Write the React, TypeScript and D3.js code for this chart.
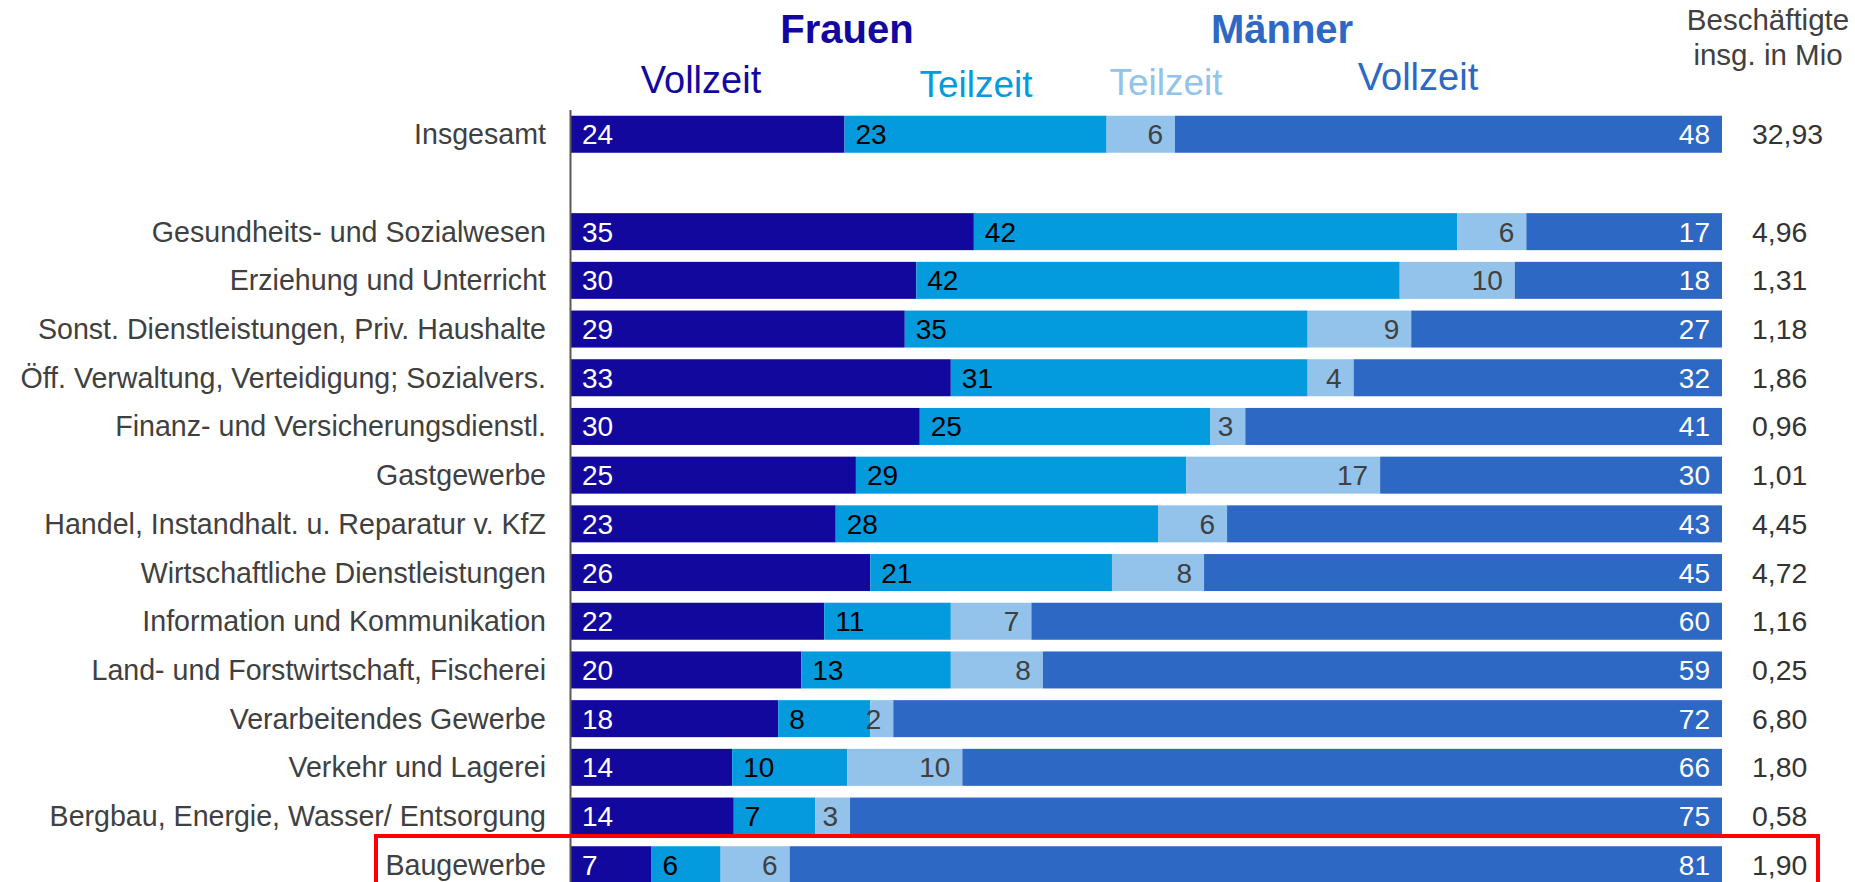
import React from 'react';
import * as d3 from 'd3';

const categories = [
  'Insgesamt',
  '',
  'Gesundheits- und Sozialwesen',
  'Erziehung und Unterricht',
  'Sonst. Dienstleistungen, Priv. Haushalte',
  'Öff. Verwaltung, Verteidigung; Sozialvers.',
  'Finanz- und Versicherungsdienstl.',
  'Gastgewerbe',
  'Handel, Instandhalt. u. Reparatur v. KfZ',
  'Wirtschaftliche Dienstleistungen',
  'Information und Kommunikation',
  'Land- und Forstwirtschaft, Fischerei',
  'Verarbeitendes Gewerbe',
  'Verkehr und Lagerei',
  'Bergbau, Energie, Wasser/ Entsorgung',
  'Baugewerbe'
];

// Anteile in Prozent (leere Zeile = Abstand)
const frauenVollzeit = [24, null, 35, 30, 29, 33, 30, 25, 23, 26, 22, 20, 18, 14, 14, 7];
const frauenTeilzeit = [23, null, 42, 42, 35, 31, 25, 29, 28, 21, 11, 13, 8, 10, 7, 6];
const maennerTeilzeit = [6, null, 6, 10, 9, 4, 3, 17, 6, 8, 7, 8, 2, 10, 3, 6];
const maennerVollzeit = [48, null, 17, 18, 27, 32, 41, 30, 43, 45, 60, 59, 72, 66, 75, 81];
const beschaeftigte = [32.93, null, 4.96, 1.31, 1.18, 1.86, 0.96, 1.01, 4.45, 4.72, 1.16, 0.25, 6.8, 1.8, 0.58, 1.9];

const keys = ['fv', 'ft', 'mt', 'mv'];
const colors = { fv: '#13089E', ft: '#039BDD', mt: '#93C2EA', mv: '#2D68C4' };
const textColors = { fv: '#ffffff', ft: '#000000', mt: '#404040', mv: '#ffffff' };

const width = 1855;
const height = 882;
const font = '"Liberation Sans", Arial, sans-serif';

const rows = categories.map((c, i) => ({
  key: c || '__gap',
  label: c,
  fv: frauenVollzeit[i] ?? 0,
  ft: frauenTeilzeit[i] ?? 0,
  mt: maennerTeilzeit[i] ?? 0,
  mv: maennerVollzeit[i] ?? 0,
  total: beschaeftigte[i]
}));
const dataRows = rows.filter(r => r.label);

// Jede Zeile auf 100 % normieren
const series = d3.stack().keys(keys).offset(d3.stackOffsetExpand)(dataRows);

const x = d3.scaleLinear().domain([0, 1]).range([571, 1722]);
const y = d3
  .scaleBand()
  .domain(rows.map(r => r.key))
  .range([109.9, 109.9 + 16 * 48.7])
  .paddingInner(0.24)
  .paddingOuter(0.12);

const de = d3.formatLocale({ decimal: ',', thousands: '.', grouping: [3], currency: ['', '€'] });
const fmt = de.format('.2f');

export default function App() {
  const bw = y.bandwidth();
  return (
    <div>
      <style>{`body{margin:0;overflow:hidden}`}</style>
      <svg width={width} height={height} style={{ display: 'block', fontFamily: font }}>
        {/* Kopfzeile */}
        <text x={847} y={43} textAnchor="middle" fontSize={40} fontWeight="bold" fill={colors.fv}>Frauen</text>
        <text x={1282} y={43} textAnchor="middle" fontSize={40} fontWeight="bold" fill={colors.mv}>Männer</text>
        <text x={701} y={93} textAnchor="middle" fontSize={38} fill={colors.fv}>Vollzeit</text>
        <text x={976} y={97} textAnchor="middle" fontSize={37} fill={colors.ft}>Teilzeit</text>
        <text x={1166} y={95} textAnchor="middle" fontSize={37} fill={colors.mt}>Teilzeit</text>
        <text x={1418} y={90} textAnchor="middle" fontSize={38} fill={colors.mv}>Vollzeit</text>
        <text x={1768} y={30} textAnchor="middle" fontSize={29.5} fill="#404040">Beschäftigte</text>
        <text x={1768} y={65} textAnchor="middle" fontSize={29.5} fill="#404040">insg. in Mio</text>

        {/* Balken */}
        {series.map(s => (
          <g key={s.key}>
            {s.map(d => {
              const r = d.data;
              const y0 = y(r.key);
              const v = r[s.key];
              const right = s.key === 'mt' || s.key === 'mv';
              return (
                <g key={r.key}>
                  <rect x={x(d[0])} y={y0} width={x(d[1]) - x(d[0])} height={bw} fill={colors[s.key]} />
                  <text
                    x={right ? x(d[1]) - 12 : x(d[0]) + 11}
                    y={y0 + bw / 2 + 10}
                    textAnchor={right ? 'end' : 'start'}
                    fontSize={28}
                    fill={textColors[s.key]}
                  >
                    {v}
                  </text>
                </g>
              );
            })}
          </g>
        ))}

        {/* Kategorien und Gesamtzahlen */}
        {dataRows.map(r => (
          <g key={r.key}>
            <text x={546} y={y(r.key) + bw / 2 + 10} textAnchor="end" fontSize={28.6} fill="#404040">
              {r.label}
            </text>
            <text x={1752} y={y(r.key) + bw / 2 + 10} fontSize={28.4} fill="#333333">
              {fmt(r.total)}
            </text>
          </g>
        ))}

        <line x1={570.5} x2={570.5} y1={110} y2={height} stroke="#595959" strokeWidth={2} />

        {/* Markierung Baugewerbe */}
        <rect x={376} y={836} width={1442} height={80} fill="none" stroke="#FF0000" strokeWidth={4} />
      </svg>
    </div>
  );
}
